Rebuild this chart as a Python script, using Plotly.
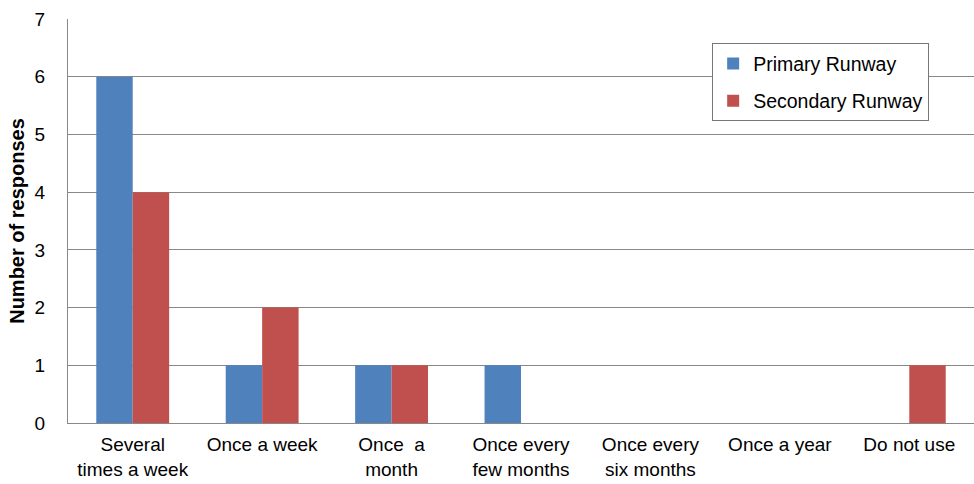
import plotly.graph_objects as go

categories = ["Several<br>times a week", "Once a week", "Once  a<br>month",
              "Once every<br>few months", "Once every<br>six months", "Once a year", "Do not use"]
primary = [6, 1, 1, 1, 0, 0, 0]
secondary = [4, 2, 1, 0, 0, 0, 1]
y_ticks = [0, 1, 2, 3, 4, 5, 6, 7]

FONT = "Liberation Sans, Arial, sans-serif"

fig = go.Figure()
fig.add_trace(go.Bar(x=categories, y=primary, name="Primary Runway",
                     marker=dict(color="#4F81BD", line=dict(width=0)), legendgroup="a"))
fig.add_trace(go.Bar(x=categories, y=secondary, name="Secondary Runway",
                     marker=dict(color="#C0504D", line=dict(width=0)), legendgroup="b"))

fig.update_layout(
    width=974, height=484,
    margin=dict(l=68, r=0, t=19, b=61),
    paper_bgcolor="white", plot_bgcolor="white",
    barmode="group", bargap=0.437, bargroupgap=0,
    font=dict(family=FONT, size=19, color="black"),
    legend=dict(x=0.711, y=0.94, xanchor="left", yanchor="top",
                bgcolor="white", bordercolor="#777777", borderwidth=1,
                font=dict(family=FONT, size=19.5, color="black"),
                tracegroupgap=9, itemwidth=30),
    xaxis=dict(showline=True, linecolor="#888888", linewidth=1, ticks="",
               tickfont=dict(family=FONT, size=19, color="black"), ticklabelstandoff=4),
    yaxis=dict(range=[0, 7], tickvals=y_ticks, showgrid=True, gridcolor="#888888", gridwidth=1,
               showline=True, linecolor="#888888", linewidth=1, zeroline=False,
               ticks="", ticklabelstandoff=18,
               tickfont=dict(family=FONT, size=19, color="black"),
               title=dict(text="<b>Number of responses</b>", standoff=4,
                          font=dict(family=FONT, size=20, color="black"))),
)

fig.write_html("out.html")
